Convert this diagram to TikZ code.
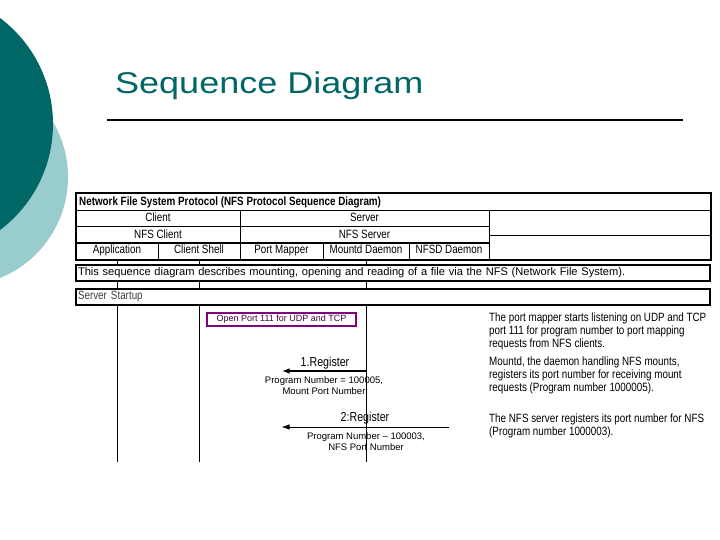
\documentclass[tikz,border=0pt]{standalone}
\usepackage{fontspec}
\setmainfont{Liberation Sans}
\newfontfamily\narrowfont[FakeStretch=0.82]{Liberation Sans}
\newfontfamily\slidefont[FakeStretch=1.2]{Liberation Sans}
\usetikzlibrary{arrows.meta}
\definecolor{darkteal}{RGB}{0,102,102}
\definecolor{lightteal}{RGB}{153,204,204}
\definecolor{portpurple}{RGB}{128,0,128}
\begin{document}
\begin{tikzpicture}[x=1pt, y=-1pt,
	cell/.style={draw, line width=1pt, inner sep=0pt, minimum height=16pt, text height=8.5pt, text depth=2.5pt, font=\narrowfont\fontsize{12}{13}\selectfont},
	bar/.style={draw, line width=2pt, fill=white, inner xsep=2pt, inner ysep=0pt, minimum height=16pt, text width=630pt, align=left},
	lifeline/.style={line width=1pt},
	msg/.style={-{Latex[length=8pt,width=5.5pt]}},
	msglabel/.style={anchor=base, inner sep=0pt, font=\narrowfont\fontsize{13}{14}\selectfont},
	small/.style={align=center, inner sep=0pt, font=\fontsize{9.5}{11}\selectfont},
	note/.style={anchor=north west, align=left, inner sep=0pt, font=\narrowfont\fontsize{12}{13}\selectfont}]
		\fill[white] (0,0) rectangle (720,540);
		\useasboundingbox (0,0) rectangle (720,540);
		% slide decoration
		\begin{scope}
			\clip (0,0) rectangle (720,540);
			\fill[lightteal] (-41,177) circle (109pt);
			\fill[darkteal] (-79.5,124) circle (132.5pt);
		\end{scope}
		\node[anchor=base west, inner sep=0pt, text=darkteal, font=\slidefont\fontsize{30}{36}\selectfont] (title) at (115,94) {Sequence Diagram};
		\coordinate (ruleL) at (107,120);
		\coordinate (ruleR) at (683,120);
		\draw[line width=2.5pt] (ruleL)--(ruleR);
		% header table
		\node[cell, minimum width=634pt, minimum height=17pt] (head) at (393,202.5) {};
		\node[anchor=west, inner sep=0pt, font=\narrowfont\bfseries\fontsize{12}{13}\selectfont] (headtxt) at (79,202.5) {Network File System Protocol (NFS Protocol Sequence Diagram)};
		\node[cell, minimum width=164pt] (client) at (158,219) {Client};
		\node[cell, minimum width=249pt] (server) at (364.5,219) {Server};
		\node[cell, minimum width=164pt] (nfsclient) at (158,235) {NFS Client};
		\node[cell, minimum width=249pt] (nfsserver) at (364.5,235) {NFS Server};
		\node[cell, minimum width=221pt, minimum height=24pt] (blankA) at (599.5,223) {};
		\node[cell, minimum width=221pt, minimum height=24pt] (blankB) at (599.5,247) {};
		\node[cell, minimum width=82pt] (app) at (117,251) {Application};
		\node[cell, minimum width=82pt] (shell) at (199,251) {Client Shell};
		\node[cell, minimum width=83pt] (pmap) at (281.5,251) {Port Mapper};
		\node[cell, minimum width=86pt] (mountd) at (366,251) {Mountd Daemon};
		\node[cell, minimum width=80pt] (nfsd) at (449,251) {NFSD Daemon};
		\draw[line width=1.8pt] (app.north west)--(nfsd.north east);
		\draw[line width=2pt] (head.north west) rectangle (blankB.south east);
		% lifelines
		\coordinate (bottom) at (0,462);
		\foreach \c in {app, shell, mountd}
			\draw[lifeline] (\c.south)--(\c.south |- bottom);
		\node[bar, font=\fontsize{11.1}{13}\selectfont] (desc) at (393,272.5) {This sequence diagram describes mounting, opening and reading of a file via the NFS (Network File System).};
		\node[bar, font=\narrowfont\fontsize{12}{13}\selectfont, text=black!75] (startup) at (393,297) {Server Startup};
		\node[draw=portpurple, line width=1.5pt, minimum width=149pt, minimum height=13pt, inner sep=0pt, font=\fontsize{9}{10}\selectfont, text=portpurple!50!black] (openport) at (281.5,319.5) {Open Port 111 for UDP and TCP};
		% messages
		\coordinate (rowA) at (0,371);
		\coordinate (rowB) at (0,427);
		\coordinate (mountdA) at (mountd.south |- rowA);
		\coordinate (pmapA) at (pmap.south |- rowA);
		\coordinate (nfsdB) at (nfsd.south |- rowB);
		\coordinate (pmapB) at (pmap.south |- rowB);
		\draw[msg, line width=2pt] (mountdA)--(pmapA);
		\draw[msg, line width=0.8pt] (nfsdB)--(pmapB);
		\node[msglabel] (reg1) at (325,366) {1.Register};
		\node[small] (reg1info) at (324,385.5) {Program Number = 100005,\\Mount Port Number};
		\node[msglabel] (reg2) at (365,421) {2:Register};
		\node[small] (reg2info) at (366,442) {Program Number -- 100003,\\NFS Port Number};
		% notes
		\node[note] (noteA) at (489,313) {The port mapper starts listening on UDP and TCP\\port 111 for program number to port mapping\\requests from NFS clients.};
		\node[note] (noteB) at (489,357) {Mountd, the daemon handling NFS mounts,\\registers its port number for receiving mount\\requests (Program number 1000005).};
		\node[note] (noteC) at (489,414) {The NFS server registers its port number for NFS\\(Program number 1000003).};
	\end{tikzpicture}
\end{document}
